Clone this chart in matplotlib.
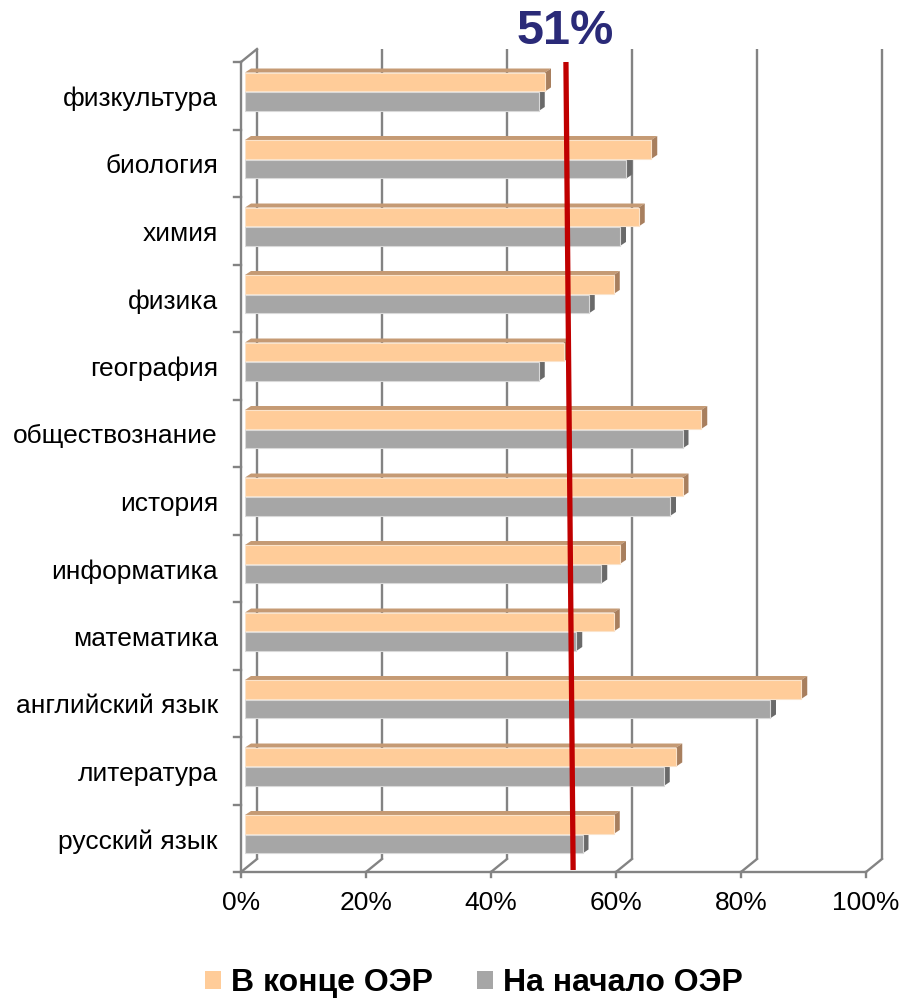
import numpy as np
import matplotlib
matplotlib.use('Agg')
import matplotlib.pyplot as plt
from matplotlib.patches import Polygon, Patch

plt.rcParams['font.family'] = ['Liberation Sans', 'DejaVu Sans']

# данные (снизу вверх)
subjects = ['русский язык', 'литература', 'английский язык', 'математика',
            'информатика', 'история', 'обществознание', 'география',
            'физика', 'химия', 'биология', 'физкультура']
end_oer = [59, 69, 89, 59, 60, 70, 73, 51, 59, 63, 65, 48]     # В конце ОЭР
start_oer = [54, 67, 84, 53, 57, 68, 70, 47, 55, 60, 61, 47]   # На начало ОЭР
x_ticks = [0, 20, 40, 60, 80, 100]
x_labels = ['0%', '20%', '40%', '60%', '80%', '100%']
threshold = 51
series_names = ['В конце ОЭР', 'На начало ОЭР']

ORANGE = '#FFCC99'
ORANGE_TOP = '#C59A74'
ORANGE_SIDE = '#A87F5E'
GRAY = '#A6A6A6'
GRAY_TOP = '#8A8A8A'
GRAY_SIDE = '#6A6A6A'
GRID = '#838383'

W, H = 901, 998
fig = plt.figure(figsize=(W / 100, H / 100), dpi=100)
# оси в "плоскости столбцов"
ax_left, ax_right, ax_bottom, ax_top = 245, 870, 868, 58
ax = fig.add_axes([ax_left / W, (H - ax_bottom) / H,
                   (ax_right - ax_left) / W, (ax_bottom - ax_top) / H])
ax.set_xlim(0, 100)
ax.set_ylim(-0.5, len(subjects) - 0.5)
ax.axis('off')

px_x = 100 / (ax_right - ax_left)
px_y = len(subjects) / (ax_bottom - ax_top)

# смещения перспективы (в пикселях -> данные)
fdx, fdy = -4 * px_x, -4 * px_y      # передняя плоскость
bdx, bdy = 12 * px_x, 9 * px_y       # задняя стенка
ddx, ddy = 6 * px_x, 4 * px_y        # глубина столбца

y0 = -0.5
y1 = len(subjects) - 0.5

# задняя стенка: вертикальные линии сетки
for t, lab in zip(x_ticks, x_labels):
    ax.plot([t + bdx, t + bdx], [y0 + bdy, y1 + bdy], color=GRID, lw=1.7, zorder=1,
            clip_on=False, solid_capstyle='butt')
    # пол: диагонали
    ax.plot([t + fdx, t + bdx], [y0 + fdy, y0 + bdy], color=GRID, lw=1.7, zorder=1,
            clip_on=False)
    # деления оси X
    ax.plot([t + fdx, t + fdx], [y0 + fdy, y0 + fdy - 5 * px_y], color=GRID, lw=1.7,
            zorder=1, clip_on=False)
    ax.text(t + fdx, y0 - 35 * px_y, lab, ha='center', va='center',
            fontsize=19, clip_on=False)

# передняя линия пола и левая стенка
ax.plot([fdx, 100 + fdx], [y0 + fdy, y0 + fdy], color=GRID, lw=1.7, zorder=1, clip_on=False)
ax.plot([fdx, fdx], [y0 + fdy, y1 + fdy], color=GRID, lw=1.7, zorder=1, clip_on=False)
ax.plot([fdx, bdx], [y1 + fdy, y1 + bdy], color=GRID, lw=1.7, zorder=1, clip_on=False)
for k in range(len(subjects) + 1):
    yb = y0 + k + fdy
    ax.plot([fdx - 7 * px_x, fdx], [yb, yb], color=GRID, lw=1.7, zorder=1, clip_on=False)

# подписи категорий
for i, name in enumerate(subjects):
    ax.text(fdx - 23 * px_x, i + fdy - 3 * px_y, name, ha='right', va='center', fontsize=19,
            clip_on=False)

ypos = np.arange(len(subjects))
off = 0.145
hgt = 0.28


def faces(values, yc, top_col, side_col):
    for v, y in zip(values, yc):
        yt = y + hgt / 2
        yb = y - hgt / 2
        top = Polygon([(0, yt), (v, yt), (v + ddx, yt + ddy), (ddx, yt + ddy)],
                      closed=True, facecolor=top_col, edgecolor='none', zorder=2)
        side = Polygon([(v, yb), (v, yt), (v + ddx, yt + ddy), (v + ddx, yb + ddy)],
                       closed=True, facecolor=side_col, edgecolor='none', zorder=2)
        ax.add_patch(top)
        ax.add_patch(side)


faces(start_oer, ypos - off, GRAY_TOP, GRAY_SIDE)
faces(end_oer, ypos + off, ORANGE_TOP, ORANGE_SIDE)
ax.barh(ypos - off, start_oer, height=hgt, color=GRAY, edgecolor='#D9D9D9', lw=0.8, zorder=3)
ax.barh(ypos + off, end_oer, height=hgt, color=ORANGE, edgecolor='#FBE3CA', lw=0.8, zorder=3)

# красная линия порога
y_top_line = -0.5 + (ax_bottom - 62) * px_y
y_bot_line = -0.5 + (ax_bottom - 870) * px_y
ax.plot([threshold + 0.35, threshold + 1.5], [y_top_line, y_bot_line], color='#C00000',
        lw=3.8, zorder=5, clip_on=False, solid_capstyle='butt')
ax.text(threshold + 0.2, -0.5 + (ax_bottom - 31) * px_y, f'{threshold}%', ha='center',
        va='center', fontsize=35, fontweight='bold', color='#2A2A78', clip_on=False)

# легенда
handles = [Patch(facecolor=ORANGE, edgecolor='none'), Patch(facecolor=GRAY, edgecolor='none')]
leg = fig.legend(handles, series_names, loc='center', bbox_to_anchor=(474 / W, 1 - 983 / H),
                 ncol=2, frameon=False, prop={'size': 23, 'weight': 'bold'},
                 handlelength=0.5, handleheight=0.5, handletextpad=0.3,
                 columnspacing=1.4, borderaxespad=0, borderpad=0)

fig.savefig('out.png', dpi=100)
